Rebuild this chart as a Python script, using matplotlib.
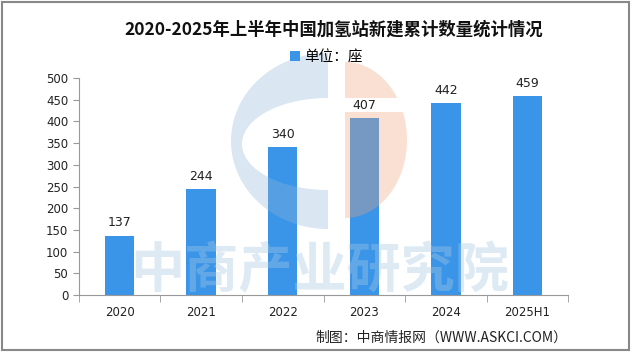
import numpy as np
import matplotlib
matplotlib.use('Agg')
import matplotlib.pyplot as plt
from matplotlib.patches import Rectangle, Polygon

plt.rcParams['font.family'] = ['Noto Sans CJK SC', 'DejaVu Sans']

years = ['2020', '2021', '2022', '2023', '2024', '2025H1']
stations = [137, 244, 340, 407, 442, 459]
yticks = [0, 50, 100, 150, 200, 250, 300, 350, 400, 450, 500]

title = '2020-2025年上半年中国加氢站新建累计数量统计情况'
unit = '单位：座'
source = '制图：中商情报网（WWW.ASKCI.COM）'
watermark = '中商产业研究院'

bar_color = '#3a95e8'

fig = plt.figure(figsize=(6.4, 3.58), dpi=100)
fig.patch.set_facecolor('white')

ax = fig.add_axes([0.123, 0.176, 0.765, 0.606])
ax.set_facecolor('none')
x = np.arange(len(years))
bars = ax.bar(x, stations, width=0.36, color=bar_color, label=unit, zorder=2)
for xi, v in zip(x, stations):
    ax.text(xi, v + 14, str(v), ha='center', va='bottom', fontsize=9,
            family='DejaVu Sans', color='#222222')

ax.set_xlim(-0.5, len(years) - 0.5)
ax.set_ylim(0, 500)
ax.set_yticks(yticks)
ax.set_yticklabels([str(t) for t in yticks], family='DejaVu Sans', fontsize=8.5)
ax.set_xticks(x)
ax.set_xticklabels(years, family='DejaVu Sans', fontsize=8.5)
ax.set_xticks(np.arange(len(years) + 1) - 0.5, minor=True)
ax.tick_params(axis='x', which='major', length=0, pad=8, colors='#222222')
ax.tick_params(axis='x', which='minor', length=5, color='#999999')
ax.tick_params(axis='y', length=4, color='#999999', colors='#222222')
for s in ['top', 'right']:
    ax.spines[s].set_visible(False)
for s in ['left', 'bottom']:
    ax.spines[s].set_color('#999999')

fig.text(0.522, 0.916, title, ha='center', va='center', fontsize=12.5,
         fontweight='bold', color='#111111')
fig.legend(handles=[bars], labels=[unit], loc='center', bbox_to_anchor=(0.51, 0.84),
           frameon=False, fontsize=10.5, handlelength=0.7, handleheight=0.7,
           handletextpad=0.3)
fig.text(0.886, 0.056, source, ha='right', va='center', fontsize=10, color='#222222')

# watermark overlay in pixel coordinates
wm = fig.add_axes([0, 0, 1, 1], zorder=5)
wm.set_xlim(0, 640)
wm.set_ylim(358, 0)
wm.axis('off')

cx, cy = 328, 141
t = np.linspace(np.pi / 2, 3 * np.pi / 2, 80)
outer = np.column_stack([cx + 97 * np.cos(t), cy - 88 * np.sin(t)])
inner = np.column_stack([cx + 86 * np.cos(t[::-1]), cy + 3 - 46 * np.sin(t[::-1])])
wm.add_patch(Polygon(np.vstack([outer, inner]), closed=True,
                     facecolor='#8fb4d8', edgecolor='none', alpha=0.33))

ox, oy, rx, ry = 345, 140, 62, 78
t1 = np.arcsin((oy - 98) / ry)
t2 = np.arcsin((oy - 112) / ry)
ta = np.linspace(np.pi / 2, t1, 40)
top = np.column_stack([ox + rx * np.cos(ta), oy - ry * np.sin(ta)])
top = np.vstack([top, [[ox, 98]]])
tb = np.linspace(t2, -np.pi / 2, 60)
bot = np.column_stack([ox + rx * np.cos(tb), oy - ry * np.sin(tb)])
bot = np.vstack([[[ox, 112]], bot])
for pts in (top, bot):
    wm.add_patch(Polygon(pts, closed=True, facecolor='#f0a27a',
                         edgecolor='none', alpha=0.33))

wm.text(320, 272, watermark, ha='center', va='center', fontsize=39,
        color='#a8c8e4', alpha=0.38, fontweight='bold')

wm.add_patch(Rectangle((1.5, 1.5), 627, 348, facecolor='none',
                       edgecolor='#888888', linewidth=1.5))

fig.savefig('out.png', dpi=100)
